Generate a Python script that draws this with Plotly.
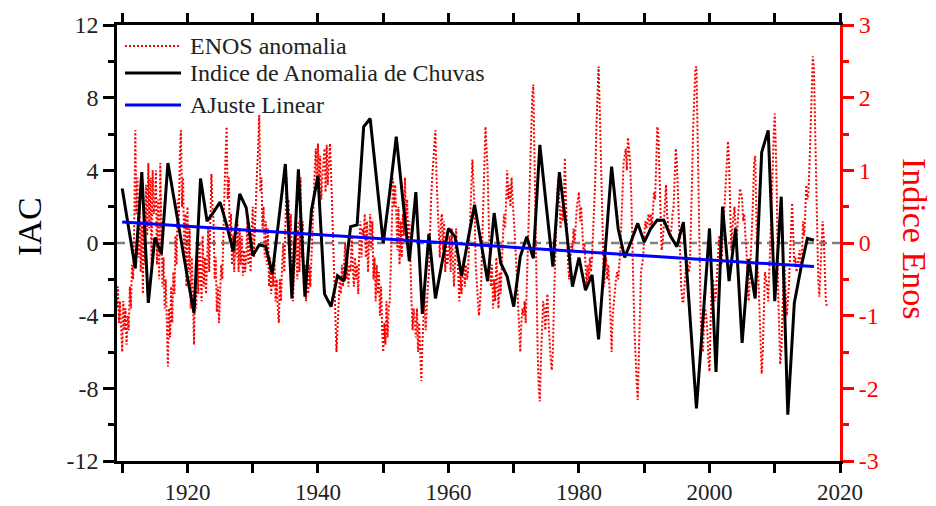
import plotly.graph_objects as go

# ---------------- data ----------------
iac_years = list(range(1910, 2017))
iac_values = [
    3.0, 0.8, -1.4, 3.9, -3.3, 0.3, -0.6, 4.4, 2.4, 0.2,          # 1910-1919
    -1.9, -3.85, 3.55, 1.2, 1.7, 2.25, 1.0, -0.45, 2.7, 1.95,      # 1920-1929
    -0.7, -0.1, -0.2, -1.7, 1.3, 4.35, -3.05, 4.05, -2.95, 1.8,    # 1930-1939
    3.7, -2.8, -3.5, -1.8, -2.1, 0.9, 1.0, 6.4, 6.85, 3.3,         # 1940-1949
    0.0, 2.8, 5.85, 2.4, -1.0, 2.8, -3.9, 0.5, -3.05, -1.1,        # 1950-1959
    0.8, 0.35, -1.8, 0.2, 2.1, 0.0, -2.1, 1.65, -1.1, -1.85,       # 1960-1969
    -3.5, -0.75, 0.35, -0.85, 5.4, 2.0, -1.3, 3.9, 1.0, -2.4,      # 1970-1979
    -0.8, -2.6, -1.75, -5.3, -0.6, 4.2, 0.8, -0.8, 0.1, 1.08,      # 1980-1989
    0.05, 0.8, 1.27, 1.25, 0.4, -0.2, 1.15, -4.0, -9.1, -4.2,      # 1990-1999
    0.8, -7.1, 2.0, -2.1, 0.8, -5.5, -0.9, -3.05, 5.0, 6.2,        # 2000-2009
    -3.2, 2.55, -9.45, -3.3, -1.4, 0.25, 0.15,                     # 2010-2016
]

trend_years = [1910, 2016]
trend_values = [1.15, -1.3]

enos_start = 1909.0
enos_per_year = 6
enos_values = [
    -0.3, -0.9, -0.6, -1.1, -0.8, -1.2,    # 1909
    -1.5, -0.8, -1.2, -0.9, -1.4, -1.0,    # 1910
    -1.2, -0.6, -0.9, -0.3, -0.5, 0.2,     # 1911
    1.55, 0.4, 0.9, -0.2, 0.6, -0.4,       # 1912
    0.3, -0.7, 0.5, -0.3, 0.8, 0.1,        # 1913
    1.1, 0.2, 0.9, -0.3, 1.0, 0.4,         # 1914
    0.5, 1.0, -0.3, 0.6, -0.5, 1.1,        # 1915
    0.2, -0.6, -0.2, -0.9, -0.5, -1.0,     # 1916
    -1.7, -0.9, -1.3, -0.6, -1.1, -0.4,    # 1917
    -0.7, 0.1, -0.3, 0.6, 0.3, 1.2,        # 1918
    1.55, 0.5, 0.9, -0.2, 0.4, -0.6,       # 1919
    0.5, -0.4, 0.2, -0.9, -0.2, -0.7,      # 1920
    -1.4, -0.5, -0.9, -0.2, -0.7, 0.0,     # 1921
    -0.4, -0.8, 0.1, -0.6, -0.2, -0.7,     # 1922
    -0.3, 0.2, -0.4, 0.4, 0.95, 0.5,       # 1923
    0.3, -0.5, -0.2, -0.95, -0.6, -1.1,    # 1924
    -0.8, -0.3, -0.5, 0.3, 0.7, 1.2,       # 1925
    1.6, 0.6, 0.9, 0.0, 0.4, -0.3,         # 1926
    0.1, -0.4, 0.2, -0.2, 0.3, -0.4,       # 1927
    0.2, -0.3, 0.1, -0.45, -0.1, -0.4,     # 1928
    -0.2, 0.3, -0.3, 0.2, -0.4, 0.1,       # 1929
    0.5, -0.2, 0.3, 0.6, 1.0, 1.3,         # 1930
    1.76, 0.7, 0.9, 0.2, 0.5, -0.2,        # 1931
    0.3, -0.3, 0.2, -0.6, -0.2, -0.7,      # 1932
    -0.3, -0.6, -0.2, -0.8, -0.5, -0.9,    # 1933
    -1.1, -0.5, -0.8, -0.3, 0.0, -0.4,     # 1934
    0.2, 0.9, 0.3, 0.6, -0.1, 0.4,         # 1935
    -0.3, -0.8, -0.4, -0.2, 0.2, -0.5,     # 1936
    0.3, -0.4, 0.9, -0.2, 0.3, -0.6,       # 1937
    -0.3, -0.8, -0.4, -0.7, -0.3, -0.6,    # 1938
    -0.2, 0.3, 0.6, 1.0, 1.3, 0.8,         # 1939
    1.37, 0.8, 1.2, 0.6, 0.9, 1.1,         # 1940
    1.3, 0.7, 1.35, 0.8, 1.1, 1.37,        # 1941
    1.0, 0.4, 0.2, -0.6, -1.0, -1.5,       # 1942
    -1.2, -0.8, -0.5, -0.7, -0.3, -0.6,    # 1943
    -0.3, 0.0, -0.5, -0.2, -0.6, -0.3,     # 1944
    -0.4, 0.1, -0.3, -0.6, -0.2, -0.5,     # 1945
    -0.3, -0.7, -0.1, 0.3, -0.2, 0.2,      # 1946
    0.1, 0.4, -0.2, 0.3, -0.4, 0.2,        # 1947
    0.4, -0.1, 0.3, -0.5, -0.2, -0.8,      # 1948
    -0.3, -0.7, -0.4, -1.0, -0.6, -1.2,    # 1949
    -1.5, -1.1, -1.4, -0.8, -1.3, -0.9,    # 1950
    -0.8, -0.3, 0.3, 0.89, 0.5, 0.8,       # 1951
    0.4, -0.1, 0.5, -0.3, 0.3, -0.2,       # 1952
    0.4, 0.1, 0.9, 0.3, 0.6, 0.0,          # 1953
    0.3, -0.5, -0.8, -1.2, -0.9, -1.1,     # 1954
    -1.3, -0.9, -1.5, -1.1, -1.6, -1.9,    # 1955
    -1.4, -1.0, -0.7, -1.2, -0.8, -0.6,    # 1956
    -0.4, 0.2, 0.6, 0.9, 1.1, 1.3,         # 1957
    1.55, 0.9, 0.5, 0.2, -0.2, 0.3,        # 1958
    0.4, -0.1, 0.3, -0.4, 0.0, -0.3,       # 1959
    -0.2, 0.1, -0.4, 0.2, -0.3, -0.6,      # 1960
    -0.3, 0.2, -0.1, -0.5, -0.8, -0.4,     # 1961
    -0.7, -0.4, -0.2, -0.6, -0.3, -0.5,    # 1962
    -0.4, 0.0, 0.4, 0.9, 1.15, 0.8,        # 1963
    0.5, -0.3, -0.6, -0.9, -1.0, -0.8,     # 1964
    -0.6, 0.0, 0.6, 1.1, 1.6, 1.3,         # 1965
    1.0, 0.3, -0.2, -0.6, -0.3, -0.9,      # 1966
    -0.5, -0.8, -0.2, -0.6, -0.9, -0.4,    # 1967
    -0.7, -0.3, 0.1, 0.4, 0.2, 0.7,        # 1968
    1.0, 0.6, 0.8, 0.5, 0.9, 0.6,          # 1969
    0.4, 0.1, -0.2, -0.5, -0.9, -1.2,      # 1970
    -1.5, -1.1, -0.9, -1.0, -0.8, -1.1,    # 1971
    -0.6, 0.1, 0.6, 1.2, 1.7, 2.0,         # 1972
    2.18, 1.2, 0.0, -0.9, -1.5, -2.0,      # 1973
    -2.18, -1.6, -1.1, -0.8, -0.9, -1.2,   # 1974
    -0.9, -0.7, -1.1, -1.4, -1.6, -1.75,   # 1975
    -1.5, -0.8, -0.3, 0.3, 0.7, 0.9,       # 1976
    0.6, 0.2, 0.5, 0.3, 0.6, 1.17,         # 1977
    0.6, 0.1, -0.3, -0.5, -0.2, 0.0,       # 1978
    -0.1, 0.2, 0.0, 0.3, 0.5, 0.6,         # 1979
    0.7, 0.3, 0.5, 0.2, -0.1, 0.0,         # 1980
    -0.3, -0.6, -0.3, -0.5, -0.2, -0.4,    # 1981
    -0.2, 0.1, 0.6, 0.9, 1.6, 2.1,         # 1982
    2.43, 1.9, 1.2, 0.5, -0.2, -0.6,       # 1983
    -0.4, -0.2, -0.5, -0.3, -0.6, -1.1,    # 1984
    -1.5, -1.0, -0.8, -0.6, -0.5, -0.4,    # 1985
    -0.5, -0.3, -0.1, 0.3, 0.8, 1.1,       # 1986
    1.2, 1.3, 1.0, 1.45, 1.3, 1.1,         # 1987
    0.7, 0.2, -0.6, -1.2, -1.7, -1.9,      # 1988
    -2.16, -1.5, -0.8, -0.4, -0.3, -0.2,   # 1989
    0.1, 0.3, 0.2, 0.3, 0.4, 0.2,          # 1990
    0.4, 0.2, 0.5, 0.7, 0.6, 1.2,          # 1991
    1.6, 1.5, 1.0, 0.3, -0.1, 0.0,         # 1992
    0.3, 0.5, 0.8, 0.4, 0.2, 0.1,          # 1993
    0.1, 0.2, 0.4, 0.5, 0.9, 1.3,          # 1994
    1.1, 0.6, 0.2, -0.1, -0.6, -0.8,       # 1995
    -0.8, -0.6, -0.3, -0.2, -0.3, -0.4,    # 1996
    -0.3, 0.2, 0.9, 1.6, 2.1, 2.4,         # 1997
    2.43, 1.6, 0.9, -0.4, -1.1, -1.4,      # 1998
    -1.5, -1.1, -0.9, -1.0, -1.2, -1.6,    # 1999
    -1.77, -1.1, -0.6, -0.5, -0.6, -0.8,   # 2000
    -0.7, -0.4, -0.1, 0.1, -0.1, -0.3,     # 2001
    0.0, 0.3, 0.6, 0.8, 1.1, 1.4,          # 2002
    1.1, 0.6, -0.1, 0.2, 0.4, 0.5,         # 2003
    0.2, 0.0, 0.3, 0.6, 0.75, 0.7,         # 2004
    0.6, 0.3, 0.4, 0.1, -0.1, -0.6,        # 2005
    -0.8, -0.5, 0.0, 0.2, 0.6, 1.1,        # 2006
    1.2, 0.2, -0.3, -0.5, -1.0, -1.4,      # 2007
    -1.8, -1.5, -0.9, -0.4, -0.5, -0.6,    # 2008
    -0.8, -0.4, 0.1, 0.6, 0.9, 1.5,        # 2009
    1.78, 1.3, 0.6, -0.6, -1.3, -1.67,     # 2010
    -1.5, -0.9, -0.5, -0.3, -0.8, -1.0,    # 2011
    -0.8, -0.6, -0.2, 0.3, 0.55, 0.1,      # 2012
    -0.3, -0.2, -0.4, -0.3, -0.2, -0.1,    # 2013
    -0.4, -0.2, 0.3, 0.1, 0.4, 0.8,        # 2014
    0.6, 0.7, 1.1, 1.6, 2.2, 2.57,         # 2015
    2.4, 1.6, 0.8, -0.1, -0.5, -0.74,      # 2016
    -0.4, 0.1, 0.3, 0.1, -0.5, -0.8,       # 2017
    -0.87,                                 # 2018
]
enos_x = [enos_start + i / enos_per_year for i in range(len(enos_values))]

x_range = [1909.2, 2020]
x_ticks = [1920, 1940, 1960, 1980, 2000, 2020]
iac_range = [-12, 12]
iac_ticks = [-12, -8, -4, 0, 4, 8, 12]
enos_range = [-3, 3]
enos_ticks = [-3, -2, -1, 0, 1, 2, 3]

# ---------------- figure ----------------
# the page body has an 8 px margin, so the figure is drawn 8 px in from the corner
OFF = 8
W, H = 936 - OFF, 506 - OFF
# wanted plot area on screen: x 117..840, y 25..461
ML, MR, MT, MB = 117 - OFF, 936 - 840, 25 - OFF, 506 - 461
pw, ph = W - ML - MR, H - MT - MB


def px(xs):  # screen x -> paper
    return (xs - OFF - ML) / pw


def py(ys):  # screen y -> paper
    return (H - MB - (ys - OFF)) / ph


FONT = "Liberation Serif, Times New Roman, serif"
RED = "#ff0000"
BLUE = "#0000ff"
TXT = "#222222"

fig = go.Figure()
fig.add_trace(go.Scatter(
    x=enos_x, y=enos_values, yaxis="y", mode="lines",
    line=dict(color=RED, width=2, dash="2px,2px"),
    name="ENOS anomalia", showlegend=False))
fig.add_trace(go.Scatter(
    x=iac_years, y=iac_values, yaxis="y2", mode="lines",
    line=dict(color="black", width=3),
    name="Indice de Anomalia de Chuvas", showlegend=False))
fig.add_trace(go.Scatter(
    x=trend_years, y=trend_values, yaxis="y2", mode="lines",
    line=dict(color=BLUE, width=3),
    name="AJuste Linear", showlegend=False))

tickfont = dict(family=FONT, size=24, color=TXT)

fig.update_layout(
    width=W, height=H,
    margin=dict(l=ML, r=MR, t=MT, b=MB, pad=0, autoexpand=False),
    paper_bgcolor="white", plot_bgcolor="white",
    xaxis=dict(
        range=x_range, tickvals=x_ticks, ticktext=[str(v) for v in x_ticks],
        automargin=False, showgrid=False, zeroline=False,
        showline=True, linecolor="black", linewidth=2.5, mirror="allticks",
        ticks="outside", ticklen=9, tickwidth=2.5, tickcolor="black",
        minor=dict(dtick=10, tick0=1910, ticks="outside", ticklen=6,
                   tickwidth=2.5, tickcolor="black", showgrid=False),
        tickfont=dict(family=FONT, size=23, color=TXT),
    ),
    yaxis=dict(  # ENOS (right)
        range=enos_range, side="right",
        tickvals=enos_ticks, ticktext=[str(v) for v in enos_ticks],
        automargin=False, showgrid=False, zeroline=False,
        showline=True, linecolor=RED, linewidth=3,
        ticks="outside", ticklen=11, tickwidth=3, tickcolor=RED,
        minor=dict(dtick=0.5, tick0=0, ticks="outside", ticklen=6, tickwidth=3,
                   tickcolor=RED, showgrid=False),
        tickfont=dict(family=FONT, size=24, color=RED),
    ),
    yaxis2=dict(  # IAC (left)
        range=iac_range, side="left", overlaying="y",
        tickvals=iac_ticks, ticktext=[str(v) for v in iac_ticks],
        automargin=False, showgrid=False, zeroline=False,
        showline=True, linecolor="black", linewidth=2.5,
        ticks="outside", ticklen=11, tickwidth=2.5, tickcolor="black",
        minor=dict(dtick=2, tick0=0, ticks="outside", ticklen=6, tickwidth=2.5,
                   tickcolor="black", showgrid=False),
        tickfont=tickfont,
    ),
)

# zero reference line (dashed grey)
fig.add_shape(type="line", xref="paper", yref="y2", x0=0, x1=1, y0=0, y1=0,
              line=dict(color="#808080", width=2.5, dash="8px,5px"), layer="below")

# manual legend
legend_items = [
    ("ENOS anomalia", dict(color=RED, width=2, dash="2px,2px"), 46),
    ("Indice de Anomalia de Chuvas", dict(color="black", width=3), 73),
    ("AJuste Linear", dict(color=BLUE, width=3), 105),
]
for label, ln, ypix in legend_items:
    fig.add_shape(type="line", xref="paper", yref="paper",
                  x0=px(125), x1=px(181), y0=py(ypix), y1=py(ypix), line=ln)
    fig.add_annotation(xref="paper", yref="paper", x=px(188), y=py(ypix),
                       text=label, showarrow=False, xanchor="left", yanchor="middle",
                       font=dict(family=FONT, size=24, color=TXT))

# axis titles
fig.add_annotation(xref="paper", yref="paper", x=px(29), y=py(227), text="IAC",
                   textangle=-90, showarrow=False, xanchor="center", yanchor="middle",
                   font=dict(family=FONT, size=34, color="black"))
fig.add_annotation(xref="paper", yref="paper", x=px(915), y=py(238), text="Indice Enos",
                   textangle=90, showarrow=False, xanchor="center", yanchor="middle",
                   font=dict(family=FONT, size=34, color=RED))

fig.write_html("out.html")
